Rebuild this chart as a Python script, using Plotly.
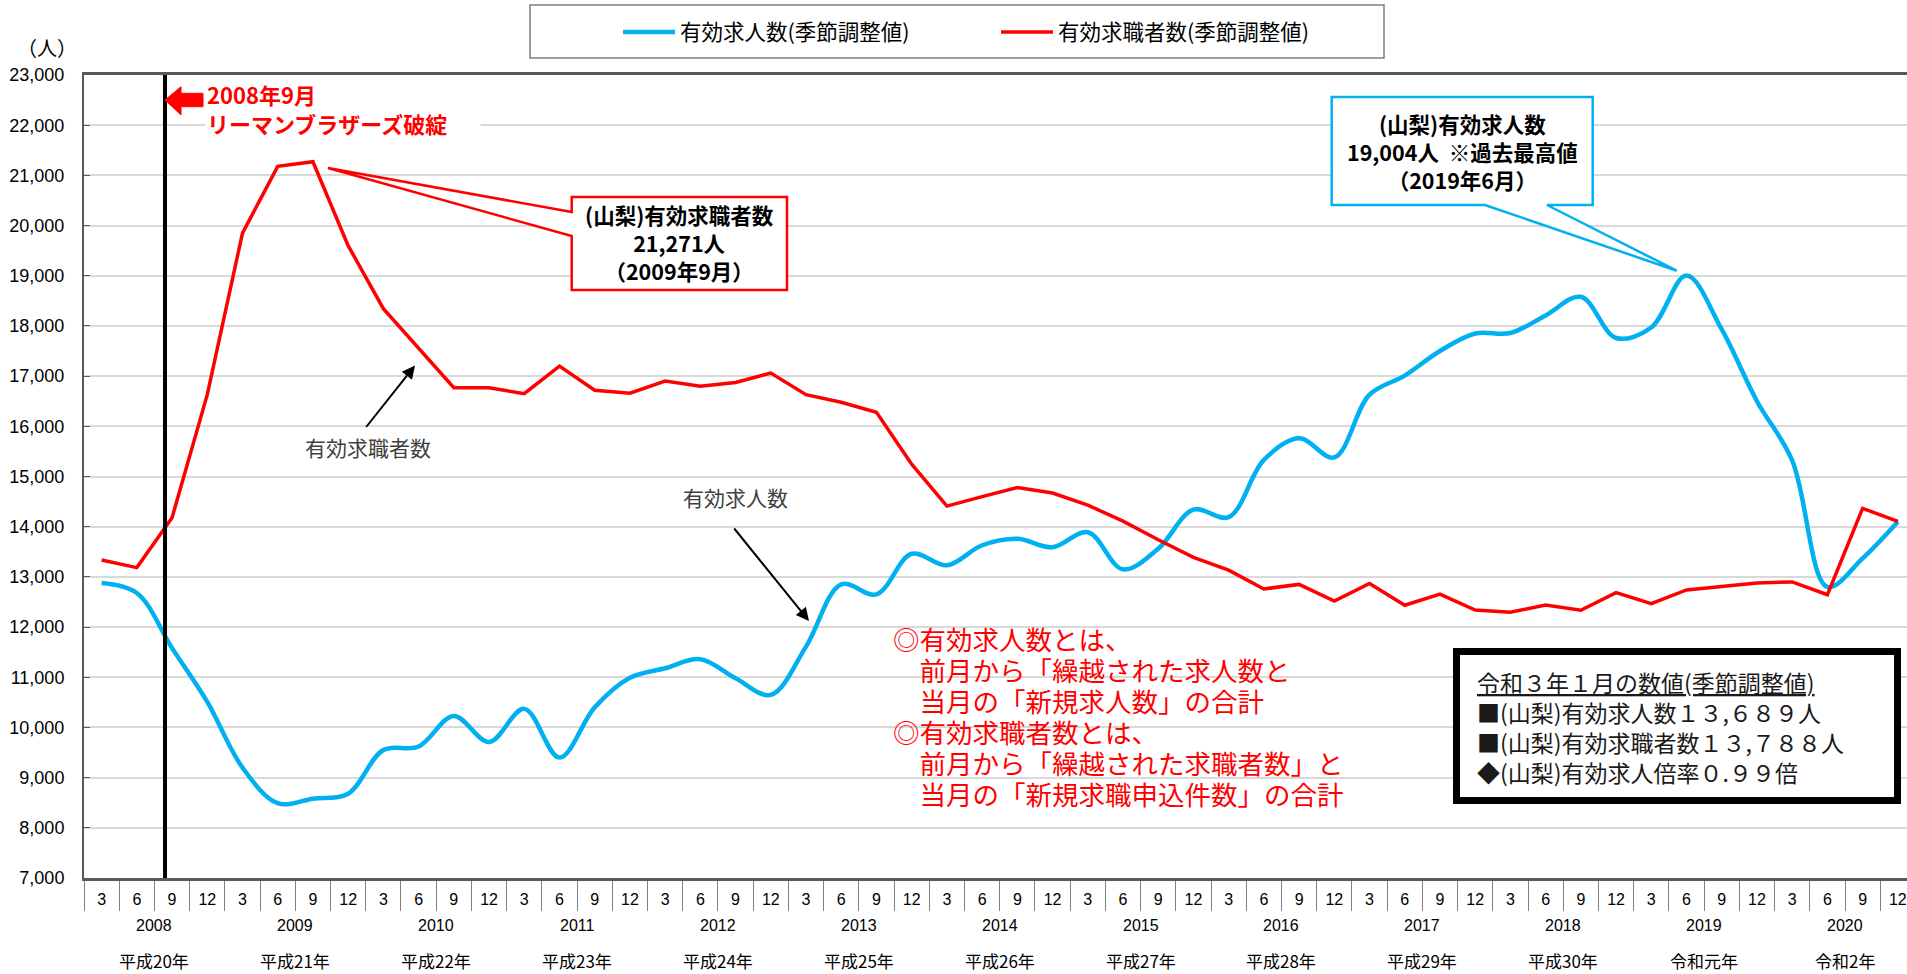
import plotly.graph_objects as go

# ---------------- data ----------------
years = [str(y) for y in range(2008, 2021)]
eras = ["平成20年", "平成21年", "平成22年", "平成23年", "平成24年", "平成25年", "平成26年",
        "平成27年", "平成28年", "平成29年", "平成30年", "令和元年", "令和2年"]
quarters = ["3", "6", "9", "12"]

# 有効求人数(季節調整値) quarterly (Mar, Jun, Sep, Dec) 2008-2020
jobs = [12880, 12680, 11580, 10510,
        9200, 8490, 8580, 8680,
        9550, 9620, 10230, 9710,
        10370, 9400, 10400, 10990,
        11180, 11360, 10980, 10650,
        11610, 12850, 12650, 13460,
        13230, 13630, 13760, 13590,
        13890, 13150, 13560, 14340,
        14190, 15330, 15760, 15380,
        16630, 17010, 17500, 17850,
        17860, 18210, 18580, 17760,
        17970, 19004, 17930, 16500,
        15320, 12800, 13370, 14100]

# 有効求職者数(季節調整値)
seekers = [13335, 13185, 14180, 16630,
           19850, 21180, 21271, 19600,
           18345, 17560, 16770, 16770,
           16650, 17200, 16720, 16660,
           16900, 16800, 16875, 17060,
           16630, 16480, 16280, 15245,
           14410, 14600, 14780, 14670,
           14430, 14110, 13740, 13390,
           13135, 12760, 12850, 12520,
           12870, 12435, 12655, 12340,
           12295, 12440, 12335, 12685,
           12465, 12740, 12815, 12880,
           12900, 12645, 14365, 14105]

latest_title = "令和３年１月の数値(季節調整値)"
latest_jobs = "１３,６８９人"
latest_seekers = "１３,７８８人"
latest_ratio = "０.９９倍"

n = len(jobs)
xs = list(range(n))
tick_labels = [quarters[i % 4] for i in range(n)]
lehman_x = 1.8  # position of 2008/9 marker line

# ---------------- layout geometry (pixels) ----------------
W, H = 1907, 974
ML, MT, MB = 84, 75, 96
PW = W - ML
PH = H - MT - MB
cell = 35.22
xr = [-0.5, -0.5 + PW / cell]


def PX(px):
    return (px - ML) / PW


def PY(py):
    return (MT + PH - py) / PH


def path(points):
    return "M " + " L ".join(f"{PX(x):.5f},{PY(y):.5f}" for x, y in points) + " Z"


CJK = "Noto Sans CJK JP"
NUM = "Liberation Sans"

fig = go.Figure()
fig.add_trace(go.Scatter(x=xs, y=jobs, mode="lines", name="有効求人数(季節調整値)",
                         line=dict(color="#00B0F0", width=4.5, shape="spline", smoothing=1.0),
                         legend="legend", hoverinfo="skip"))
fig.add_trace(go.Scatter(x=xs, y=seekers, mode="lines", name="有効求職者数(季節調整値)",
                         line=dict(color="#FF0000", width=3.5),
                         legend="legend2", hoverinfo="skip"))

shapes = []
# Lehman vertical line
shapes.append(dict(type="line", xref="x", yref="paper", x0=lehman_x, x1=lehman_x, y0=0, y1=1,
                   line=dict(color="black", width=4), layer="above"))
# Lehman block arrow
shapes.append(dict(type="path", xref="paper", yref="paper",
                   path=path([(165, 100), (181, 86.7), (181, 93.3), (203, 93.3), (203, 106.7),
                              (181, 106.7), (181, 115)]),
                   fillcolor="#FF0000", line=dict(color="#FF0000", width=1), layer="above"))
# red callout
shapes.append(dict(type="path", xref="paper", yref="paper",
                   path=path([(571.7, 197), (787, 197), (787, 290), (571.7, 290), (571.7, 236),
                              (328, 168), (571.7, 212)]),
                   fillcolor="white", line=dict(color="#FF0000", width=2.5), layer="above"))
# blue callout
shapes.append(dict(type="path", xref="paper", yref="paper",
                   path=path([(1331.7, 97), (1592.7, 97), (1592.7, 205), (1547, 205),
                              (1676.7, 270.7), (1485, 205), (1331.7, 205)]),
                   fillcolor="white", line=dict(color="#00B0F0", width=2.5), layer="above"))
# info box
shapes.append(dict(type="rect", xref="paper", yref="paper",
                   x0=PX(1456.5), x1=PX(1897.5), y0=PY(651.5), y1=PY(800.5),
                   fillcolor="white", line=dict(color="black", width=7), layer="above"))
# legend box
shapes.append(dict(type="rect", xref="paper", yref="paper",
                   x0=PX(530), x1=PX(1384), y0=PY(5), y1=PY(58),
                   fillcolor="rgba(0,0,0,0)", line=dict(color="#7F7F7F", width=1.5), layer="above"))

ann = []
# (人)
ann.append(dict(text="（人）", xref="paper", yref="paper", x=PX(47), y=PY(47),
                xanchor="center", yanchor="middle", showarrow=False,
                font=dict(family=CJK, size=20, color="black")))
# year and era labels
for k, (yr, era) in enumerate(zip(years, eras)):
    c = 4 * k + 1.5
    ann.append(dict(text=yr, xref="x", yref="paper", x=c, y=PY(925), showarrow=False,
                    xanchor="center", yanchor="middle", font=dict(family=NUM, size=16, color="black")))
    ann.append(dict(text=era, xref="x", yref="paper", x=c, y=PY(960), showarrow=False,
                    xanchor="center", yanchor="middle", font=dict(family=CJK, size=17, color="black")))
# Lehman text
ann.append(dict(text="<b>2008年9月<br>リーマンブラザーズ破綻</b>", xref="paper", yref="paper",
                x=PX(205), y=PY(109), xanchor="left", yanchor="middle", align="left",
                showarrow=False, bgcolor="white", width=272,
                font=dict(family=CJK, size=22, color="#FF0000")))
# red callout text
ann.append(dict(text=f"<b>(山梨)有効求職者数<br>{max(seekers):,}人<br>（2009年9月）</b>",
                xref="paper", yref="paper", x=PX(679), y=PY(243), xanchor="center",
                yanchor="middle", align="center", showarrow=False,
                font=dict(family=CJK, size=21.5, color="black")))
# blue callout text
ann.append(dict(text=f"<b>(山梨)有効求人数<br>{max(jobs):,}人  ※過去最高値<br>（2019年6月）</b>",
                xref="paper", yref="paper", x=PX(1462), y=PY(151), xanchor="center",
                yanchor="middle", align="center", showarrow=False,
                font=dict(family=CJK, size=21.5, color="black")))
# series labels with arrows
ann.append(dict(text="有効求職者数", xref="paper", yref="paper", x=PX(368), y=PY(447),
                xanchor="center", yanchor="middle",
                showarrow=False, font=dict(family=CJK, size=21, color="#404040")))
ann.append(dict(text="", xref="paper", yref="paper", x=PX(415), y=PY(365.5),
                ax=-50, ay=63, showarrow=True, arrowhead=2, arrowsize=1.3, arrowwidth=2,
                arrowcolor="black"))
ann.append(dict(text="有効求人数", xref="paper", yref="paper", x=PX(735), y=PY(497),
                xanchor="center", yanchor="middle",
                showarrow=False, font=dict(family=CJK, size=21, color="#404040")))
ann.append(dict(text="", xref="paper", yref="paper", x=PX(809), y=PY(621),
                ax=-76, ay=-94, showarrow=True, arrowhead=2, arrowsize=1.3, arrowwidth=2,
                arrowcolor="black"))
# definitions (single text block; base size sets line pitch, inner span sets glyph size)
defs = ["◎有効求人数とは、", "　前月から「繰越された求人数と", "　当月の「新規求人数」の合計",
        "◎有効求職者数とは、", "　前月から「繰越された求職者数」と", "　当月の「新規求職申込件数」の合計"]
def_text = "<br>".join(f"<span style='font-size:26.5px'>{t}</span>" for t in defs)
ann.append(dict(text=def_text, xref="paper", yref="paper", x=PX(891), y=PY(716),
                xanchor="left", yanchor="middle", align="left", showarrow=False,
                font=dict(family=CJK, size=23.8, color="#FF0000")))
# info box text
info = (f"<u>{latest_title}</u><br>■(山梨)有効求人数{latest_jobs}<br>"
        f"■(山梨)有効求職者数{latest_seekers}<br>◆(山梨)有効求人倍率{latest_ratio}")
ann.append(dict(text=info, xref="paper", yref="paper", x=PX(1475), y=PY(727), xanchor="left",
                yanchor="middle", align="left", showarrow=False,
                font=dict(family=CJK, size=23, color="#1a1a1a")))

fig.update_layout(
    width=W, height=H,
    margin=dict(l=ML, r=0, t=MT, b=MB),
    plot_bgcolor="white", paper_bgcolor="white",
    font=dict(family=CJK, color="black"),
    showlegend=True,
    legend=dict(x=PX(618), y=PY(32), xanchor="left", yanchor="middle", orientation="h",
                bgcolor="rgba(0,0,0,0)", borderwidth=0, itemwidth=52,
                font=dict(family=CJK, size=21.5, color="black")),
    legend2=dict(x=PX(996), y=PY(32), xanchor="left", yanchor="middle", orientation="h",
                 bgcolor="rgba(0,0,0,0)", borderwidth=0, itemwidth=52,
                 font=dict(family=CJK, size=21.5, color="black")),
    xaxis=dict(range=xr, tickmode="array", tickvals=xs, ticktext=tick_labels, ticks="",
               ticklabelstandoff=5,
               showgrid=False, zeroline=False, showline=True, linecolor="#595959", linewidth=2.5,
               mirror=True, tickfont=dict(family=NUM, size=16, color="black"),
               minor=dict(tickmode="array", tickvals=[k - 0.5 for k in range(n + 1)],
                          ticks="outside", ticklen=30, tickcolor="#7F7F7F", tickwidth=1,
                          showgrid=False)),
    xaxis2=dict(range=xr, overlaying="x", anchor="y", side="bottom", tickmode="array",
                tickvals=[4 * k - 0.5 for k in range(len(years) + 1)], ticktext=[""] * (len(years) + 1),
                ticks="outside", ticklen=96, tickcolor="#7F7F7F", tickwidth=1,
                showgrid=False, zeroline=False, showline=False, showticklabels=False),
    yaxis=dict(range=[7000, 23000], dtick=1000, tick0=7000, tickformat=",",
               showgrid=True, gridcolor="#D9D9D9", gridwidth=1.5, zeroline=False,
               showline=True, linecolor="#595959", linewidth=2,
               ticks="inside", ticklen=6, tickcolor="#595959", ticklabelstandoff=14,
               tickfont=dict(family=NUM, size=18, color="black")),
    shapes=shapes,
    annotations=ann,
)

fig.write_html("out.html", config={"displayModeBar": False},
               post_script="document.body.style.margin='0';document.body.style.overflow='hidden';")
